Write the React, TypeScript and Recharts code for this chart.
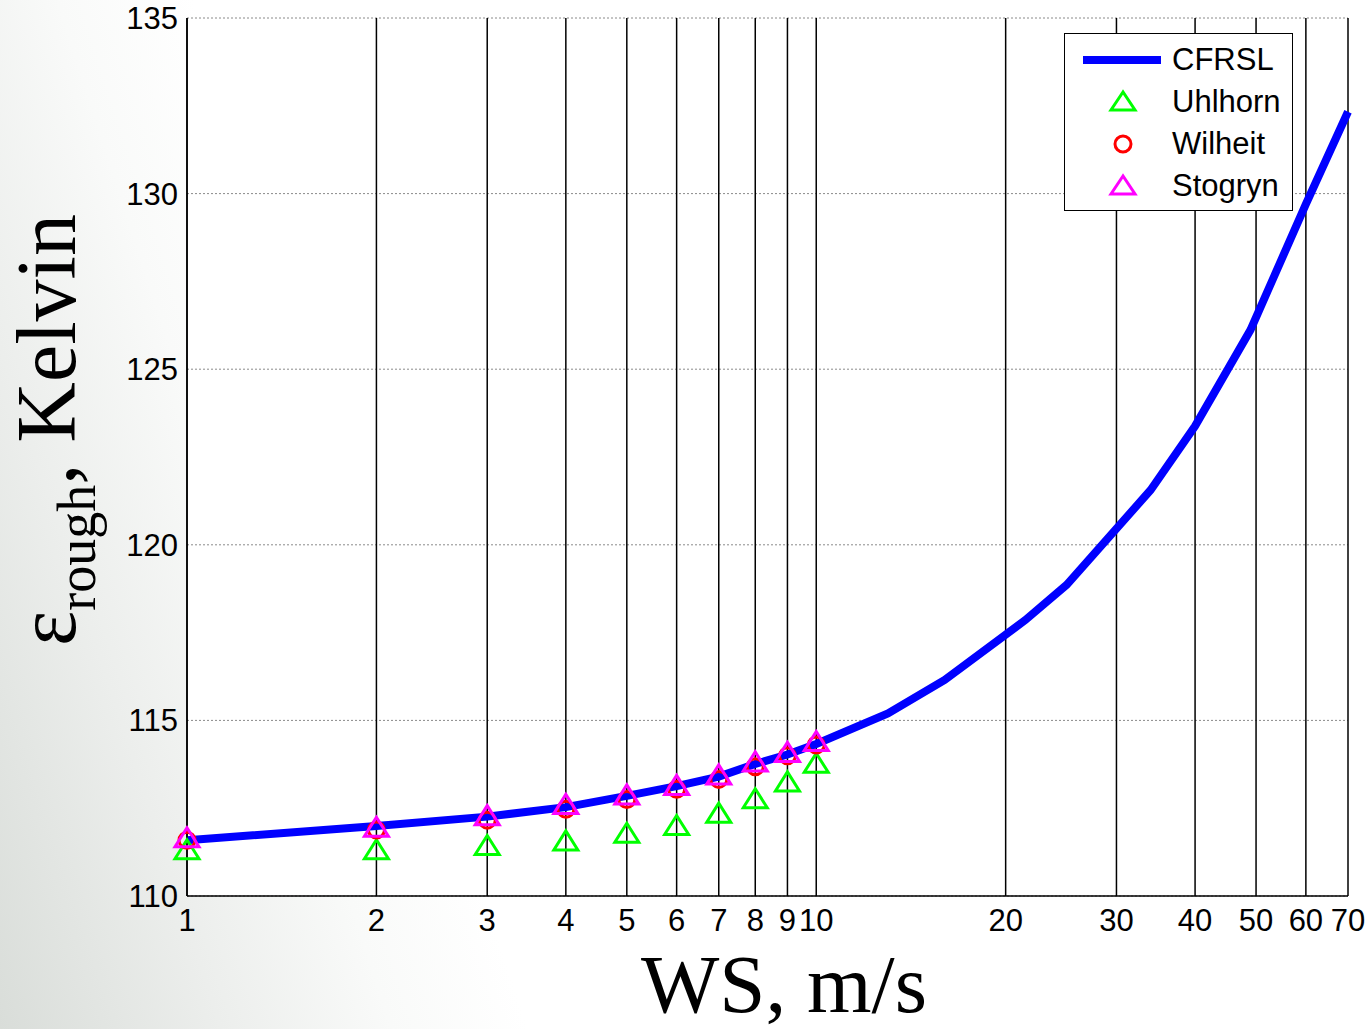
import {
  ComposedChart,
  Line,
  Scatter,
  XAxis,
  YAxis,
  CartesianGrid,
  Label,
} from 'recharts'

// CFRSL model curve
const cfrslWs = [1, 2, 3, 4, 5, 6, 7, 8, 9, 10, 13, 16, 21.5, 25, 34, 40, 49, 60, 70]
const cfrslTb = [
  111.59, 111.99, 112.26, 112.53, 112.85, 113.13, 113.4, 113.76, 114.03, 114.33,
  115.2, 116.15, 117.86, 118.86, 121.56, 123.38, 126.12, 129.7, 132.33,
]

// comparison models, WS 1..10
const modelWs = [1, 2, 3, 4, 5, 6, 7, 8, 9, 10]
const uhlhornTb = [111.29, 111.29, 111.41, 111.54, 111.76, 111.98, 112.33, 112.74, 113.22, 113.75]
const wilheitTb = [111.59, 111.88, 112.16, 112.47, 112.75, 113.04, 113.32, 113.68, 113.99, 114.3]
const stogrynTb = [111.63, 111.93, 112.26, 112.58, 112.85, 113.12, 113.42, 113.79, 114.06, 114.37]

const xTicks = [1, 2, 3, 4, 5, 6, 7, 8, 9, 10, 20, 30, 40, 50, 60, 70]
const yTicks = [110, 115, 120, 125, 130, 135]

const cfrslData = cfrslWs.map((ws, i) => ({ ws, tb: cfrslTb[i] }))
const uhlhornData = modelWs.map((ws, i) => ({ ws, tb: uhlhornTb[i] }))
const wilheitData = modelWs.map((ws, i) => ({ ws, tb: wilheitTb[i] }))
const stogrynData = modelWs.map((ws, i) => ({ ws, tb: stogrynTb[i] }))

const sans = '"Liberation Sans", Arial, sans-serif'
const serif = '"Liberation Serif", "Times New Roman", serif'

function triangle(color: string) {
  return (props: any) => {
    const { cx, cy } = props
    if (cx == null || cy == null) return <g />
    return (
      <polygon
        points={`${cx},${cy - 11} ${cx - 12},${cy + 8} ${cx + 12},${cy + 8}`}
        fill="none"
        stroke={color}
        strokeWidth={3}
      />
    )
  }
}

function ring(props: any) {
  const { cx, cy } = props
  if (cx == null || cy == null) return <g />
  return <circle cx={cx} cy={cy} r={8} fill="none" stroke="#ff0000" strokeWidth={3} />
}

const legendRows = [
  { name: 'CFRSL', kind: 'line', color: '#0000ff' },
  { name: 'Uhlhorn', kind: 'tri', color: '#00ff00' },
  { name: 'Wilheit', kind: 'circle', color: '#ff0000' },
  { name: 'Stogryn', kind: 'tri', color: '#ff00ff' },
]

function LegendBox() {
  return (
    <div
      style={{
        position: 'absolute',
        left: 1064,
        top: 33,
        width: 227,
        height: 176,
        background: '#fff',
        border: '1px solid #000',
        fontFamily: sans,
        fontSize: 31,
        color: '#000',
      }}
    >
      {legendRows.map((r, i) => (
        <div
          key={r.name}
          style={{ position: 'absolute', left: 0, top: 26 + i * 42 - 21, height: 42, width: 227 }}
        >
          <svg width={100} height={42} style={{ position: 'absolute', left: 0, top: 0 }}>
            {r.kind === 'line' && (
              <line x1={18} y1={21} x2={96} y2={21} stroke={r.color} strokeWidth={8} />
            )}
            {r.kind === 'tri' && (
              <polygon points="58,11 46,29 70,29" fill="none" stroke={r.color} strokeWidth={3} />
            )}
            {r.kind === 'circle' && (
              <circle cx={58} cy={21} r={8} fill="none" stroke={r.color} strokeWidth={3} />
            )}
          </svg>
          <span style={{ position: 'absolute', left: 107, top: 2, lineHeight: '38px' }}>
            {r.name}
          </span>
        </div>
      ))}
    </div>
  )
}

export default function App() {
  return (
    <div
      style={{
        width: 1370,
        height: 1029,
        position: 'relative',
        background:
          'linear-gradient(72deg, #d9ddd9 0%, #eceeec 13%, #f9faf9 23%, #ffffff 31%)',
      }}
    >
      <style>{'body{margin:0}'}</style>
      <ComposedChart
        width={1370}
        height={1029}
        margin={{ top: 18, right: 22, bottom: 0, left: 0 }}
      >
        <CartesianGrid
          horizontal
          vertical={false}
          fill="#ffffff"
          stroke="#8a8a8a"
          strokeDasharray="2 2"
        />
        <CartesianGrid horizontal={false} vertical stroke="#000" strokeWidth={1.5} />
        <XAxis
          dataKey="ws"
          type="number"
          scale="log"
          domain={[1, 70]}
          ticks={xTicks}
          interval={0}
          height={133}
          tickSize={0}
          tickMargin={13}
          axisLine={{ stroke: '#000', strokeWidth: 1.5 }}
          tick={{ fill: '#000', fontSize: 31, fontFamily: sans }}
        >
          <Label
            content={() => (
              <text x={784} y={1012} textAnchor="middle" fontFamily={serif} fontSize={83} fill="#000">
                WS, m/s
              </text>
            )}
          />
        </XAxis>
        <XAxis
          xAxisId="top"
          orientation="top"
          type="number"
          scale="log"
          domain={[1, 70]}
          height={0}
          tick={false}
          tickLine={false}
          axisLine={{ stroke: '#000', strokeWidth: 1.5 }}
        />
        <YAxis
          type="number"
          domain={[110, 135]}
          ticks={yTicks}
          interval={0}
          width={187}
          tickSize={0}
          tickMargin={9}
          axisLine={{ stroke: '#000', strokeWidth: 1.5 }}
          tick={{ fill: '#000', fontSize: 31, fontFamily: sans }}
        >
          <Label
            content={() => (
              <text
                x={75}
                y={430}
                transform="rotate(-90, 75, 430)"
                textAnchor="middle"
                fontFamily={serif}
                fontSize={84}
                fill="#000"
              >
                <tspan>ε</tspan>
                <tspan fontSize={54} dy={20}>rough</tspan>
                <tspan dy={-20}>, Kelvin</tspan>
              </text>
            )}
          />
        </YAxis>
        <YAxis
          yAxisId="right"
          orientation="right"
          domain={[110, 135]}
          width={0}
          tick={false}
          tickLine={false}
          axisLine={{ stroke: '#000', strokeWidth: 1.5 }}
        />
        <Line
          data={cfrslData}
          dataKey="tb"
          type="linear"
          stroke="#0000ff"
          strokeWidth={8}
          dot={false}
          isAnimationActive={false}
          name="CFRSL"
        />
        <Scatter
          data={uhlhornData}
          dataKey="tb"
          shape={triangle('#00ff00')}
          isAnimationActive={false}
          name="Uhlhorn"
        />
        <Scatter data={wilheitData} dataKey="tb" shape={ring} isAnimationActive={false} name="Wilheit" />
        <Scatter
          data={stogrynData}
          dataKey="tb"
          shape={triangle('#ff00ff')}
          isAnimationActive={false}
          name="Stogryn"
        />
      </ComposedChart>
      <LegendBox />
    </div>
  )
}
